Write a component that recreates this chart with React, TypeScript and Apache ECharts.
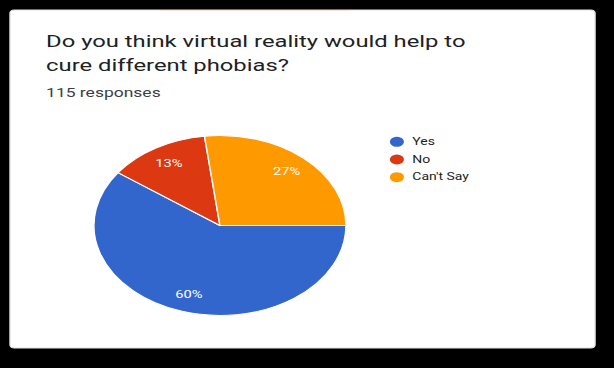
import React, { useEffect, useRef } from "react";
import * as echarts from "echarts";

// ---- data ----
const categories: string[] = ["Yes", "No", "Can't Say"];
const responses: number[] = [69, 15, 31];
const sliceColors: string[] = ["#3366cc", "#dc3912", "#ff9900"];
const titleLines: string[] = [
  "Do you think virtual reality would help to",
  "cure different phobias?",
];
const subtitleText = "115 responses";

// the reference image is horizontally stretched
const SX = 1.4;
const PAGE_W = 614;
const PAGE_H = 368;
const NAT_W = PAGE_W / SX;

const FONT = "Roboto, 'Noto Sans', sans-serif";

export default function App() {
  const ref = useRef<HTMLDivElement>(null);

  useEffect(() => {
    if (!ref.current) return;
    const chart = echarts.init(ref.current, null, { renderer: "svg" });
    const pieData = categories.map((name, i) => ({
      name,
      value: responses[i],
      itemStyle: { color: sliceColors[i] },
    }));
    const R = 90;
    const center = [157.1, 225.5];
    chart.setOption({
      animation: false,
      backgroundColor: "#000000",
      textStyle: { fontFamily: FONT },
      graphic: [
        {
          type: "rect",
          shape: { x: 7.14, y: 10, width: 417.9, height: 338, r: 3 },
          style: { fill: "#ffffff", stroke: "#e3e3e3", lineWidth: 1 },
          z: 0,
        },
        {
          type: "line",
          shape: { x1: 114.3, y1: 10.5, x2: 250, y2: 10.5 },
          style: { stroke: "#f6e3d9", lineWidth: 1 },
          z: 1,
        },
        {
          type: "text",
          x: 32.9,
          y: 41,
          style: {
            text: titleLines[0],
            fill: "#202124",
            fontSize: 17,
            fontFamily: FONT,
            verticalAlign: "middle",
            align: "left",
          },
          z: 2,
        },
        {
          type: "text",
          x: 32.9,
          y: 65,
          style: {
            text: titleLines[1],
            fill: "#202124",
            fontSize: 17,
            fontFamily: FONT,
            verticalAlign: "middle",
            align: "left",
          },
          z: 2,
        },
        {
          type: "text",
          x: 32.9,
          y: 93,
          style: {
            text: subtitleText,
            fill: "#3c4043",
            fontSize: 12.5,
            fontFamily: FONT,
            verticalAlign: "middle",
            align: "left",
          },
          z: 2,
        },
      ],
      legend: {
        orient: "vertical",
        left: 276.5,
        top: 134.8,
        padding: 0,
        icon: "circle",
        itemWidth: 12,
        itemHeight: 12,
        itemGap: 3.7,
        data: categories.map((name, i) => ({
          name,
          itemStyle: { color: sliceColors[i] },
        })),
        textStyle: {
          fontSize: 10,
          lineHeight: 12,
          color: "#222222",
          fontFamily: FONT,
        },
        selectedMode: false,
      },
      series: [
        {
          type: "pie",
          name: "responses",
          radius: [0, R],
          center,
          startAngle: 0,
          clockwise: true,
          silent: true,
          label: { show: false },
          labelLine: { show: false },
          itemStyle: { borderColor: "#ffffff", borderWidth: 1 },
          emphasis: { disabled: true },
          data: pieData,
        },
        {
          type: "pie",
          name: "labels",
          radius: [R * 0.533, R],
          center,
          startAngle: 0,
          clockwise: true,
          silent: true,
          percentPrecision: 0,
          itemStyle: { color: "transparent", borderWidth: 0 },
          label: {
            show: true,
            position: "inside",
            formatter: "{d}%",
            color: "#ffffff",
            fontSize: 10.5,
            fontFamily: FONT,
            padding: [9, 0, 0, 0],
          },
          labelLine: { show: false },
          emphasis: { disabled: true },
          data: categories.map((name, i) => ({ name, value: responses[i] })),
          z: 3,
        },
      ],
    });
    return () => chart.dispose();
  }, []);

  return (
    <div
      style={{
        position: "fixed",
        left: 0,
        top: 0,
        width: PAGE_W,
        height: PAGE_H,
        overflow: "hidden",
        background: "#000000",
      }}
    >
      <div
        ref={ref}
        style={{
          width: NAT_W,
          height: PAGE_H,
          transform: `scaleX(${SX})`,
          transformOrigin: "0 0",
        }}
      />
    </div>
  );
}
